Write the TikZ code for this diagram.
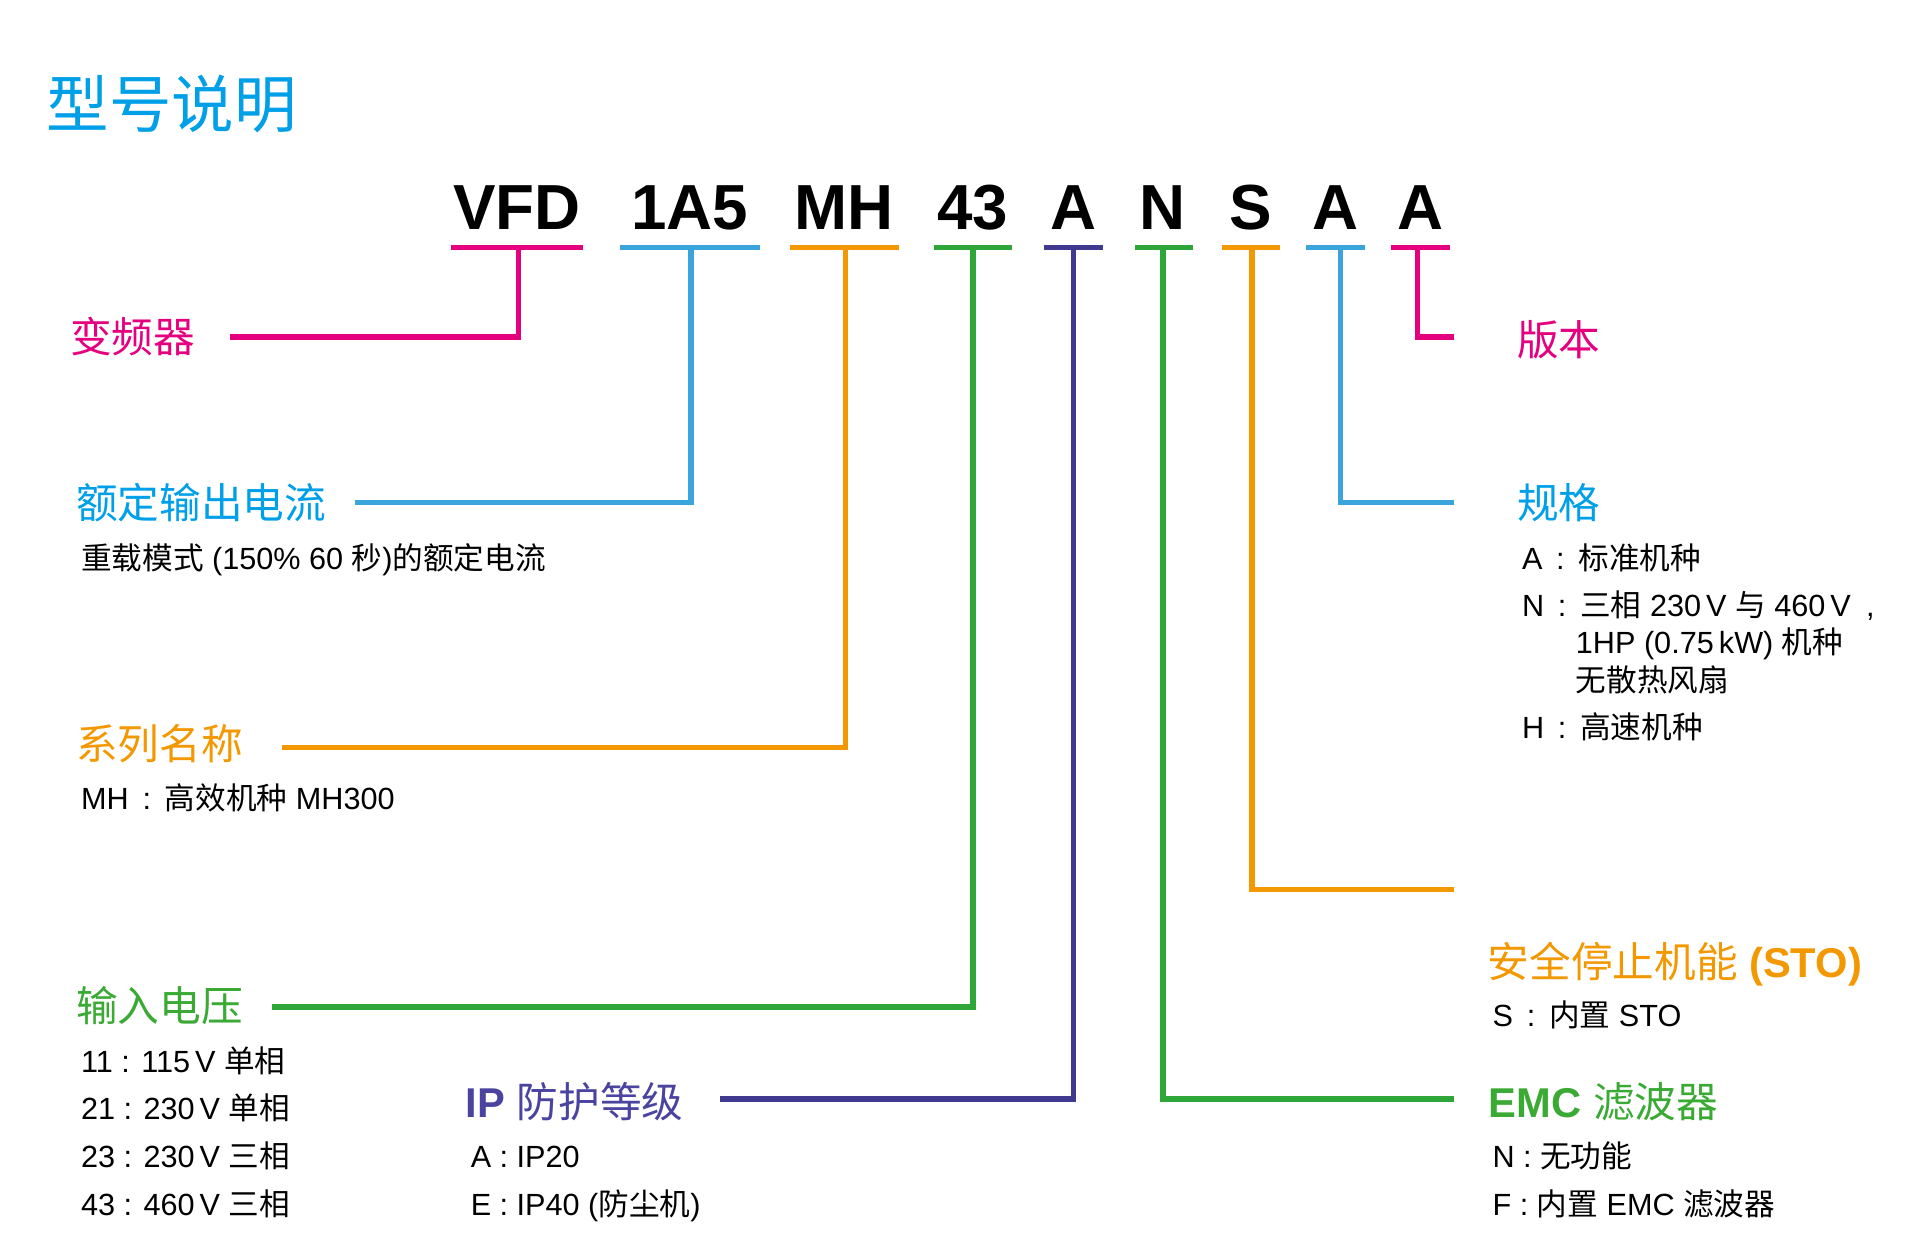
\documentclass[tikz,border=0pt]{standalone}
\usepackage{fontspec}
\setmainfont{Liberation Sans}
\newfontfamily\cjk{Noto Sans CJK SC}
\newcommand\zh[1]{{\cjk #1}}
\newcommand\csep{\hspace{0.45em}:\hspace{0.45em}}
\definecolor{pinkc}{HTML}{E4007F}
\definecolor{bluec}{HTML}{3AA5DD}
\definecolor{bluet}{HTML}{00A0E9}
\definecolor{orangec}{HTML}{F39800}
\definecolor{greenc}{HTML}{2EA639}
\definecolor{greent}{HTML}{3AAA35}
\definecolor{purplec}{HTML}{3F3A8F}
\definecolor{purplet}{HTML}{4A44A0}
\begin{document}
\begin{tikzpicture}[x=1pt,y=-1pt,
  conn/.style={line width=4.5pt},
  code/.style={anchor=base,inner sep=0pt,font=\fontsize{52}{52}\selectfont\bfseries},
  lbl/.style={anchor=base west,inner sep=0pt,font=\fontsize{34}{34}\selectfont},
  sub/.style={anchor=base west,inner sep=0pt,font=\fontsize{25}{25}\selectfont,text=black}]
\useasboundingbox[fill=white] (0,0) rectangle (1567,1021);

% title
\node[anchor=base west,inner sep=0pt,font=\fontsize{51}{51}\selectfont,text=bluet] (title) at (38,104) {\zh{型号说明}};

% code letters
\node[code] (c1) at (422,187) {VFD};
\node[code] (c2) at (563,187) {1A5};
\node[code] (c3) at (689,187) {MH};
\node[code] (c4) at (794,187) {43};
\node[code] (c5) at (876,187) {A};
\node[code] (c6) at (949,187) {N};
\node[code] (c7) at (1021,187) {S};
\node[code] (c8) at (1090,187) {A};
\node[code] (c9) at (1159,187) {A};

% bars
\draw[conn,pinkc]   (368,202) -- (476,202);
\draw[conn,bluec]   (506,202) -- (620,202);
\draw[conn,orangec] (645,202) -- (734,202);
\draw[conn,greenc]  (762,202) -- (826,202);
\draw[conn,purplec] (852,202) -- (900,202);
\draw[conn,greenc]  (926,202) -- (974,202);
\draw[conn,orangec] (997,202) -- (1045,202);
\draw[conn,bluec]   (1066,202) -- (1114,202);
\draw[conn,pinkc]   (1135,202) -- (1183,202);

% stem coordinates and line ends
\coordinate (s1) at (423,202);  \coordinate (e1) at (188,275);
\coordinate (s2) at (564,202);  \coordinate (e2) at (290,410);
\coordinate (s3) at (690,202);  \coordinate (e3) at (230,610);
\coordinate (s4) at (794,202);  \coordinate (e4) at (222,822);
\coordinate (s5) at (876,202);  \coordinate (e5) at (588,897);
\coordinate (s6) at (949,202);  \coordinate (e6) at (1187,897);
\coordinate (s7) at (1022,202); \coordinate (e7) at (1187,726);
\coordinate (s8) at (1094,202); \coordinate (e8) at (1187,410);
\coordinate (s9) at (1157,202); \coordinate (e9) at (1187,275);

\draw[conn,pinkc]   (s1) |- (e1);
\draw[conn,bluec]   (s2) |- (e2);
\draw[conn,orangec] (s3) |- (e3);
\draw[conn,greenc]  (s4) |- (e4);
\draw[conn,purplec] (s5) |- (e5);
\draw[conn,greenc]  (s6) |- (e6);
\draw[conn,orangec] (s7) |- (e7);
\draw[conn,bluec]   (s8) |- (e8);
\draw[conn,pinkc]   (s9) |- (e9);

% left labels
\node[lbl,text=pinkc] (l1) at (57,288) {\zh{变频器}};

\node[lbl,text=bluet] (l2) at (62,423) {\zh{额定输出电流}};
\node[sub] (l2a) at (66,465) {\zh{重载模式} (150\% 60 \zh{秒})\zh{的额定电流}};

\node[lbl,text=orangec] (l3) at (62,620) {\zh{系列名称}};
\node[sub] (l3a) at (66,661) {MH\csep\zh{高效机种} MH300};

\node[lbl,text=greent] (l4) at (62,834) {\zh{输入电压}};
\node[sub] (l4a) at (66,875) {11 : 115\,V \zh{单相}};
\node[sub] (l4b) at (66,914) {21 : 230\,V \zh{单相}};
\node[sub] (l4c) at (66,953) {23 : 230\,V \zh{三相}};
\node[sub] (l4d) at (66,992) {43 : 460\,V \zh{三相}};

\node[lbl,text=purplet] (l5) at (380,912) {\textbf{IP} \zh{防护等级}};
\node[sub] (l5a) at (384,953) {A : IP20};
\node[sub] (l5b) at (384,992) {E : IP40 (\zh{防尘机})};

% right labels
\node[lbl,text=pinkc] (l9) at (1238,290) {\zh{版本}};

\node[lbl,text=bluet] (l8) at (1238,423) {\zh{规格}};
\node[sub] (l8a) at (1242,465) {A\csep\zh{标准机种}};
\node[sub] (l8b) at (1242,503) {N\csep\zh{三相} 230\,V \zh{与} 460\,V\enspace,};
\node[sub] (l8c) at (1286,533) {1HP (0.75\,kW) \zh{机种}};
\node[sub] (l8d) at (1286,564) {\zh{无散热风扇}};
\node[sub] (l8e) at (1242,603) {H\csep\zh{高速机种}};

\node[lbl,text=orangec] (l7) at (1214,798) {\zh{安全停止机能} \textbf{(STO)}};
\node[sub] (l7a) at (1218,838) {S\csep\zh{内置} STO};

\node[lbl,text=greent] (l6) at (1215,912) {\textbf{EMC} \zh{滤波器}};
\node[sub] (l6a) at (1218,953) {N : \zh{无功能}};
\node[sub] (l6b) at (1218,992) {F : \zh{内置} EMC \zh{滤波器}};
\end{tikzpicture}
\end{document}
